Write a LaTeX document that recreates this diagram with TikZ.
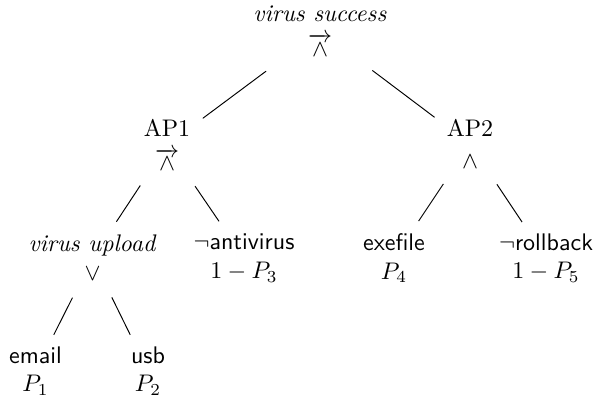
\documentclass[tikz,border=0pt]{standalone}
\usepackage{amsmath}
\begin{document}
\begin{tikzpicture}[x=0.4167pt,y=-0.4167pt,
  tn/.style={align=center,inner sep=0pt,outer sep=0pt},
  br/.style={line width=0.4pt}]
\useasboundingbox (0,0) rectangle (593,397);
\node[tn] (root) at (320,31) {\textit{virus success}\\[2.5pt]$\overrightarrow{\wedge}$};
\node[tn] (ap1) at (167,145) {AP1\\[2.5pt]$\overrightarrow{\wedge}$};
\node[tn] (ap2) at (470,144) {AP2\\[1pt]$\wedge$};
\node[tn] (vu) at (92.5,258) {\textit{virus upload}\\$\vee$};
\node[tn] (na) at (244,258) {$\neg$\textsf{antivirus}\\$1-P_3$};
\node[tn] (ex) at (394,258) {\textsf{exefile}\\$P_4$};
\node[tn] (rb) at (546,258) {$\neg$\textsf{rollback}\\$1-P_5$};
\node[tn] (em) at (35.5,371) {\textsf{email}\\$P_1$};
\node[tn] (usb) at (148,371) {\textsf{usb}\\$P_2$};
\draw[br,shorten <=28pt,shorten >=18.6pt] (root.center) -- (ap1.center);
\draw[br,shorten <=27.3pt,shorten >=18.5pt] (root.center) -- (ap2.center);
\draw[br,shorten <=20.2pt,shorten >=18.1pt] (ap1.center) -- (vu.center);
\draw[br,shorten <=20.8pt,shorten >=18.5pt] (ap1.center) -- (na.center);
\draw[br,shorten <=20pt,shorten >=18.5pt] (ap2.center) -- (ex.center);
\draw[br,shorten <=20.2pt,shorten >=18pt] (ap2.center) -- (rb.center);
\draw[br,shorten <=18.5pt,shorten >=16.9pt] (vu.center) -- (em.center);
\draw[br,shorten <=18.3pt,shorten >=16.8pt] (vu.center) -- (usb.center);
\end{tikzpicture}
\end{document}
